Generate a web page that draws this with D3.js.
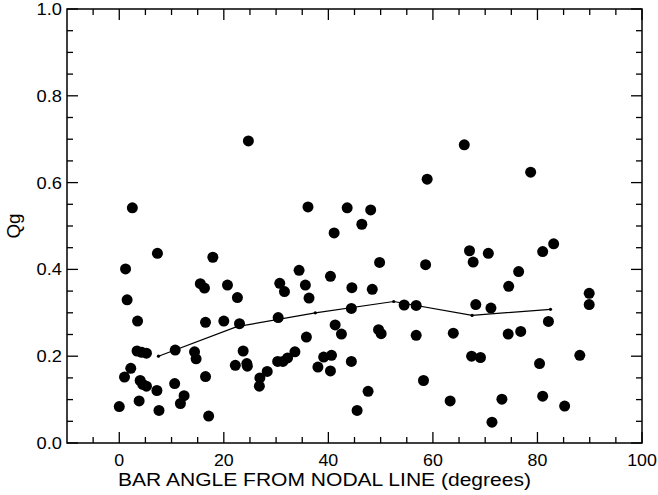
<!DOCTYPE html>
<html>
<head>
<meta charset="utf-8">
<script src="https://cdn.jsdelivr.net/npm/d3@7"></script>
<style>
    body { margin: 0; background: #fff; }
    text { font-family: "Liberation Sans", Arial, sans-serif; fill: #000; }
</style>
</head>
<body>
<div id="chart"></div>
<script>
// bar angle (deg) and Qg for every galaxy
const angle = [24.7, 2.5, 36.1, 43.6, 41.1, 7.3, 17.9, 1.2, 34.4, 40.4,
    15.5, 16.3, 20.7, 30.7, 31.6, 35.6, 44.5, 66.0, 58.9, 78.7,
    48.1, 46.4, 49.8, 58.6, 67.0, 67.7, 70.6, 81.0, 83.1, 76.4,
    74.5, 48.4, 89.9, 89.9, 1.5, 3.5, 16.5, 20.0, 23.0, 22.6,
    36.3, 44.4, 30.4, 41.3, 42.5, 35.8, 3.4, 4.3, 5.2, 10.7,
    14.4, 14.7, 23.7, 22.2, 24.4, 24.5, 30.3, 31.3, 32.2, 33.6,
    28.3, 26.9, 26.8, 39.1, 40.6, 38.0, 40.4, 44.4, 45.5, 2.2,
    1.0, 4.0, 4.5, 5.2, 7.2, 10.6, 12.4, 11.7, 16.5, 17.1,
    0.0, 3.8, 7.6, 54.5, 56.8, 68.2, 71.1, 82.1, 49.6, 50.1,
    56.8, 63.9, 74.4, 76.8, 67.4, 69.1, 80.4, 88.1, 58.2, 47.6,
    63.3, 73.2, 81.0, 85.2, 71.3];
const qg = [0.696, 0.542, 0.544, 0.542, 0.484, 0.437, 0.428, 0.401, 0.398, 0.384,
    0.367, 0.357, 0.364, 0.368, 0.349, 0.364, 0.358, 0.687, 0.608, 0.624,
    0.537, 0.504, 0.416, 0.411, 0.443, 0.417, 0.437, 0.441, 0.459, 0.395,
    0.361, 0.354, 0.345, 0.319, 0.330, 0.281, 0.278, 0.281, 0.275, 0.335,
    0.334, 0.310, 0.289, 0.272, 0.251, 0.244, 0.212, 0.209, 0.207, 0.214,
    0.210, 0.194, 0.212, 0.179, 0.183, 0.177, 0.188, 0.188, 0.196, 0.210,
    0.165, 0.150, 0.131, 0.198, 0.202, 0.175, 0.166, 0.188, 0.075, 0.172,
    0.152, 0.144, 0.135, 0.131, 0.121, 0.137, 0.109, 0.091, 0.153, 0.062,
    0.084, 0.097, 0.075, 0.318, 0.317, 0.319, 0.311, 0.280, 0.261, 0.252,
    0.248, 0.253, 0.251, 0.257, 0.200, 0.197, 0.183, 0.202, 0.144, 0.119,
    0.097, 0.101, 0.108, 0.085, 0.048];

// binned means (15 degree bins)
const binCenter = [7.5, 22.5, 37.5, 52.5, 67.5, 82.5];
const binMean = [0.200, 0.268, 0.300, 0.326, 0.294, 0.308];

const xTicks = [0, 20, 40, 60, 80, 100];
const yTicks = [0.0, 0.2, 0.4, 0.6, 0.8, 1.0];

const width = 658, height = 495;
const margin = {left: 67, right: 16, top: 9, bottom: 52};

const svg = d3.select('#chart')
    .append('svg')
    .attr('width', width)
    .attr('height', height);

const x = d3.scaleLinear()
    .domain([-10, 100])
    .range([margin.left, width - margin.right]);
const y = d3.scaleLinear()
    .domain([0, 1])
    .range([height - margin.bottom, margin.top]);

// ticks: inward, on all four sides
const xMinor = d3.range(-5, 100, 5).filter(d => d % 20 != 0);
const yMinor = d3.range(0.05, 1, 0.05).filter(d => Math.abs(d * 5 - Math.round(d * 5)) > 1e-6);
const tickG = svg.append('g')
    .attr('stroke', '#000')
    .attr('stroke-width', 1.3);

[[xTicks, 11], [xMinor, 6]].forEach(([ticks, len]) => {
    ticks.forEach(t => {
        tickG.append('line')
            .attr('x1', x(t)).attr('x2', x(t))
            .attr('y1', y(0)).attr('y2', y(0) - len);
        tickG.append('line')
            .attr('x1', x(t)).attr('x2', x(t))
            .attr('y1', y(1)).attr('y2', y(1) + len);
    });
});
[[yTicks, 11], [yMinor, 6]].forEach(([ticks, len]) => {
    ticks.forEach(t => {
        tickG.append('line')
            .attr('x1', x(-10)).attr('x2', x(-10) + len)
            .attr('y1', y(t)).attr('y2', y(t));
        tickG.append('line')
            .attr('x1', x(100)).attr('x2', x(100) - len)
            .attr('y1', y(t)).attr('y2', y(t));
    });
});

svg.append('rect')
    .attr('x', x(-10))
    .attr('y', y(1))
    .attr('width', x(100) - x(-10))
    .attr('height', y(0) - y(1))
    .attr('fill', 'none')
    .attr('stroke', '#000')
    .attr('stroke-width', 1.5);

// the reference font is wider than Helvetica, so stretch a little
const labelWidth = (s) => s.replace(/\./g, '').length * 9.9 + (s.includes('.') ? 5.6 : 0);

// tick labels
svg.selectAll('.xlab')
    .data(xTicks)
    .enter()
    .append('text')
    .attr('class', 'xlab')
    .attr('x', d => x(d))
    .attr('y', y(0) + 23)
    .attr('textLength', d => labelWidth(String(d)))
    .attr('lengthAdjust', 'spacingAndGlyphs')
    .text(d => d)
    .style('font-size', '16.5px')
    .style('text-anchor', 'middle');
svg.selectAll('.ylab')
    .data(yTicks)
    .enter()
    .append('text')
    .attr('class', 'ylab')
    .attr('x', x(-10) - 5)
    .attr('y', d => y(d) + 6)
    .attr('textLength', d => labelWidth(d.toFixed(1)))
    .attr('lengthAdjust', 'spacingAndGlyphs')
    .text(d => d.toFixed(1))
    .style('font-size', '16.5px')
    .style('text-anchor', 'end');

// axis titles
svg.append('text')
    .attr('x', 324.5)
    .attr('y', height - 9)
    .attr('textLength', 413)
    .attr('lengthAdjust', 'spacingAndGlyphs')
    .text('BAR ANGLE FROM NODAL LINE (degrees)')
    .style('font-size', '17.5px')
    .style('text-anchor', 'middle');
svg.append('text')
    .attr('transform', `translate(20,${(y(0) + y(1)) / 2}) rotate(-90)`)
    .attr('textLength', 25)
    .attr('lengthAdjust', 'spacingAndGlyphs')
    .text('Qg')
    .style('font-size', '17.5px')
    .style('text-anchor', 'middle');

// galaxies
svg.append('g')
    .selectAll('circle')
    .data(angle.map((a, i) => ({a: a, q: qg[i]})))
    .enter()
    .append('circle')
    .attr('cx', d => x(d.a))
    .attr('cy', d => y(d.q))
    .attr('r', 5.5)
    .attr('fill', '#000');

// binned mean line
const bins = binCenter.map((c, i) => ({c: c, m: binMean[i]}));
svg.append('path')
    .datum(bins)
    .attr('fill', 'none')
    .attr('stroke', '#000')
    .attr('stroke-width', 1.2)
    .attr('d', d3.line().x(d => x(d.c)).y(d => y(d.m)));
svg.append('g')
    .selectAll('circle')
    .data(bins)
    .enter()
    .append('circle')
    .attr('cx', d => x(d.c))
    .attr('cy', d => y(d.m))
    .attr('r', 1.6)
    .attr('fill', '#000');
</script>
</body>
</html>
